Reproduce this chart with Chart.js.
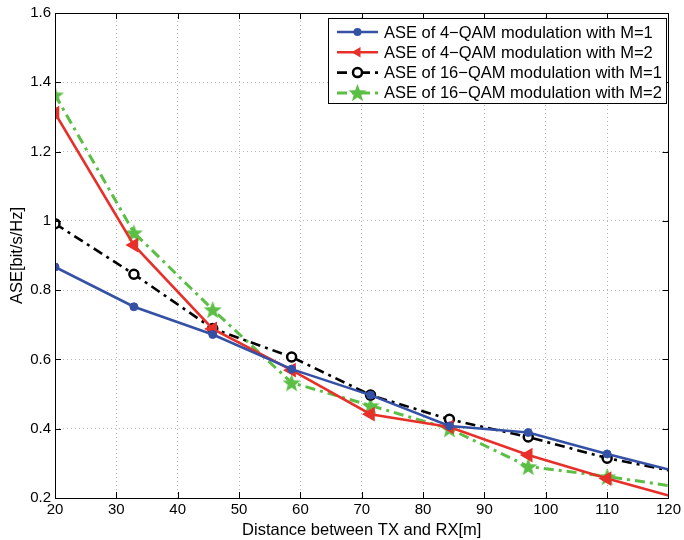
<!DOCTYPE html>
<html lang="en">
<head>
  <meta charset="UTF-8">
  <title>ASE vs distance</title>
  <script src="https://cdn.jsdelivr.net/npm/chart.js"></script>
  <style>
    html, body { margin: 0; padding: 0; background: #fff; }
    #wrap { width: 684px; height: 540px; }
  </style>
</head>
<body>
  <div id="wrap"><canvas id="aseChart" width="684" height="540"></canvas></div>

  <script>
    // distances in metres (last point is the line end, no marker)
    const distances = [20, 32.86, 45.71, 58.57, 71.43, 84.29, 97.14, 110, 120];
    const qam4M1  = [0.867, 0.752, 0.672, 0.572, 0.497, 0.408, 0.389, 0.327, 0.282];
    const qam4M2  = [1.311, 0.930, 0.688, 0.569, 0.442, 0.405, 0.324, 0.256, 0.207];
    const qam16M1 = [0.992, 0.846, 0.689, 0.607, 0.497, 0.427, 0.376, 0.315, 0.280];
    const qam16M2 = [1.364, 0.966, 0.744, 0.533, 0.467, 0.400, 0.291, 0.262, 0.236];
    const seriesLabels = [
      'ASE of 4\u2212QAM modulation with M=1',
      'ASE of 4\u2212QAM modulation with M=2',
      'ASE of 16\u2212QAM modulation with M=1',
      'ASE of 16\u2212QAM modulation with M=2'
    ];
    const xTicks = [20, 30, 40, 50, 60, 70, 80, 90, 100, 110, 120];
    const yTicks = [0.2, 0.4, 0.6, 0.8, 1.0, 1.2, 1.4, 1.6];

    const FONT = '"Liberation Sans", Arial, Helvetica, sans-serif';
    const BLUE = '#3451a6', RED = '#e8302a', GREEN = '#5cbf45';

    // filled five point star used as marker
    const makeStar = (size, color) => {
      const c = document.createElement('canvas');
      c.width = size; c.height = size;
      const g = c.getContext('2d');
      const cx = size / 2, cy = size / 2, ro = size / 2, ri = ro * 0.42;
      g.beginPath();
      for (let i = 0; i < 10; i++) {
        const r = i % 2 ? ri : ro;
        const a = -Math.PI / 2 + i * Math.PI / 5;
        g.lineTo(cx + r * Math.cos(a), cy + r * Math.sin(a) + 1);
      }
      g.closePath();
      g.fillStyle = color;
      g.fill();
      return c;
    };
    const star = makeStar(19, GREEN);

    const toPoints = vals => vals.map((v, i) => ({ x: distances[i], y: v }));
    const radii = r => distances.map((d, i) => i === distances.length - 1 ? 0 : r);

    const datasets = [
      {
        label: seriesLabels[0], data: toPoints(qam4M1),
        borderColor: BLUE, backgroundColor: BLUE, borderWidth: 2.6,
        pointStyle: 'circle', pointRadius: radii(4), pointBorderWidth: 1,
        pointBackgroundColor: BLUE, pointBorderColor: BLUE
      },
      {
        label: seriesLabels[1], data: toPoints(qam4M2),
        borderColor: RED, backgroundColor: RED, borderWidth: 2.6,
        pointStyle: 'triangle', rotation: -90, pointRadius: radii(6.5), pointBorderWidth: 2,
        pointBackgroundColor: RED, pointBorderColor: RED
      },
      {
        label: seriesLabels[2], data: toPoints(qam16M1),
        borderColor: '#000', backgroundColor: '#000', borderWidth: 2.6,
        borderDash: [10, 5, 3, 5],
        pointStyle: 'circle', pointRadius: radii(4.5), pointBorderWidth: 2.5,
        pointBackgroundColor: '#fff', pointBorderColor: '#000'
      },
      {
        label: seriesLabels[3], data: toPoints(qam16M2),
        borderColor: GREEN, backgroundColor: GREEN, borderWidth: 3,
        borderDash: [10, 5, 3, 5],
        pointStyle: distances.map((d, i) => i === distances.length - 1 ? false : star),
        pointRadius: radii(9)
      }
    ];

    // MATLAB style frame with inward ticks
    const frameTicks = {
      id: 'frameTicks',
      afterDatasetsDraw(chart) {
        const { ctx, chartArea: a, scales: { x, y } } = chart;
        ctx.save();
        ctx.strokeStyle = '#000';
        ctx.lineWidth = 1;
        ctx.setLineDash([]);
        ctx.strokeRect(Math.round(a.left) + 0.5, Math.round(a.top) + 0.5,
          Math.round(a.right - a.left), Math.round(a.bottom - a.top));
        ctx.beginPath();
        xTicks.forEach(t => {
          const px = Math.round(x.getPixelForValue(t)) + 0.5;
          ctx.moveTo(px, a.bottom); ctx.lineTo(px, a.bottom - 6);
          ctx.moveTo(px, a.top); ctx.lineTo(px, a.top + 6);
        });
        yTicks.forEach(t => {
          const py = Math.round(y.getPixelForValue(t)) + 0.5;
          ctx.moveTo(a.left, py); ctx.lineTo(a.left + 6, py);
          ctx.moveTo(a.right, py); ctx.lineTo(a.right - 6, py);
        });
        ctx.stroke();
        ctx.restore();
      }
    };

    // boxed legend in the upper right corner
    const boxLegend = {
      id: 'boxLegend',
      afterDraw(chart) {
        const ctx = chart.ctx;
        const bx = 328, by = 18, bw = 338, bh = 85;
        ctx.save();
        ctx.fillStyle = '#fff';
        ctx.fillRect(bx, by, bw, bh);
        ctx.strokeStyle = '#000';
        ctx.lineWidth = 1;
        ctx.strokeRect(bx + 0.5, by + 0.5, bw, bh);
        chart.data.datasets.forEach((ds, i) => {
          const ry = by + 14 + i * 20.3;
          ctx.save();
          ctx.strokeStyle = ds.borderColor;
          ctx.lineWidth = ds.borderWidth;
          ctx.setLineDash(ds.borderDash || []);
          ctx.beginPath();
          ctx.moveTo(337, ry); ctx.lineTo(378, ry);
          ctx.stroke();
          ctx.setLineDash([]);
          const mx = 357.5;
          if (i === 0) {
            ctx.fillStyle = BLUE;
            ctx.beginPath(); ctx.arc(mx, ry, 4, 0, Math.PI * 2); ctx.fill();
          } else if (i === 1) {
            ctx.fillStyle = RED;
            ctx.beginPath();
            ctx.moveTo(mx - 6, ry); ctx.lineTo(mx + 3, ry - 5.2); ctx.lineTo(mx + 3, ry + 5.2);
            ctx.closePath(); ctx.fill();
          } else if (i === 2) {
            ctx.fillStyle = '#fff'; ctx.lineWidth = 2.5; ctx.strokeStyle = '#000';
            ctx.beginPath(); ctx.arc(mx, ry, 4.5, 0, Math.PI * 2); ctx.fill(); ctx.stroke();
          } else {
            ctx.drawImage(star, mx - 9.5, ry - 10);
          }
          ctx.restore();
          ctx.fillStyle = '#000';
          ctx.font = '16.5px ' + FONT;
          ctx.textBaseline = 'middle';
          ctx.fillText(ds.label, 384, ry + 1);
        });
        ctx.restore();
      }
    };

    const ctx = document.getElementById('aseChart').getContext('2d');
    const chart = new Chart(ctx, {
      type: 'line',
      data: { datasets },
      options: {
        responsive: false,
        animation: false,
        layout: { padding: { top: 13, right: 13, left: 0, bottom: 0 } },
        plugins: {
          legend: { display: false },
          tooltip: { enabled: false }
        },
        scales: {
          x: {
            type: 'linear', min: 20, max: 120,
            afterBuildTicks: s => { s.ticks = xTicks.map(v => ({ value: v })); },
            afterFit: s => { s.height = 42; },
            grid: { color: '#b8b8b8', lineWidth: 1, drawTicks: false },
            border: { display: false, dash: [1, 3] },
            ticks: { color: '#000', font: { family: FONT, size: 15 }, padding: 3, maxRotation: 0 },
            title: {
              display: true, text: 'Distance between TX and RX[m]', color: '#000',
              font: { family: FONT, size: 16.5 }, padding: { top: 0, bottom: 0 }
            }
          },
          y: {
            type: 'linear', min: 0.2, max: 1.6,
            afterBuildTicks: s => { s.ticks = yTicks.map(v => ({ value: v })); },
            afterFit: s => { s.width = 55; },
            grid: { color: '#b8b8b8', lineWidth: 1, drawTicks: false },
            border: { display: false, dash: [1, 3] },
            ticks: {
              color: '#000', font: { family: FONT, size: 15 }, padding: 4,
              callback: v => String(+v.toFixed(1))
            },
            title: {
              display: true, text: 'ASE[bit/s/Hz]', color: '#000',
              font: { family: FONT, size: 16.5 }, padding: { top: 8, bottom: 0 }
            }
          }
        }
      },
      plugins: [frameTicks, boxLegend]
    });
  </script>
</body>
</html>
